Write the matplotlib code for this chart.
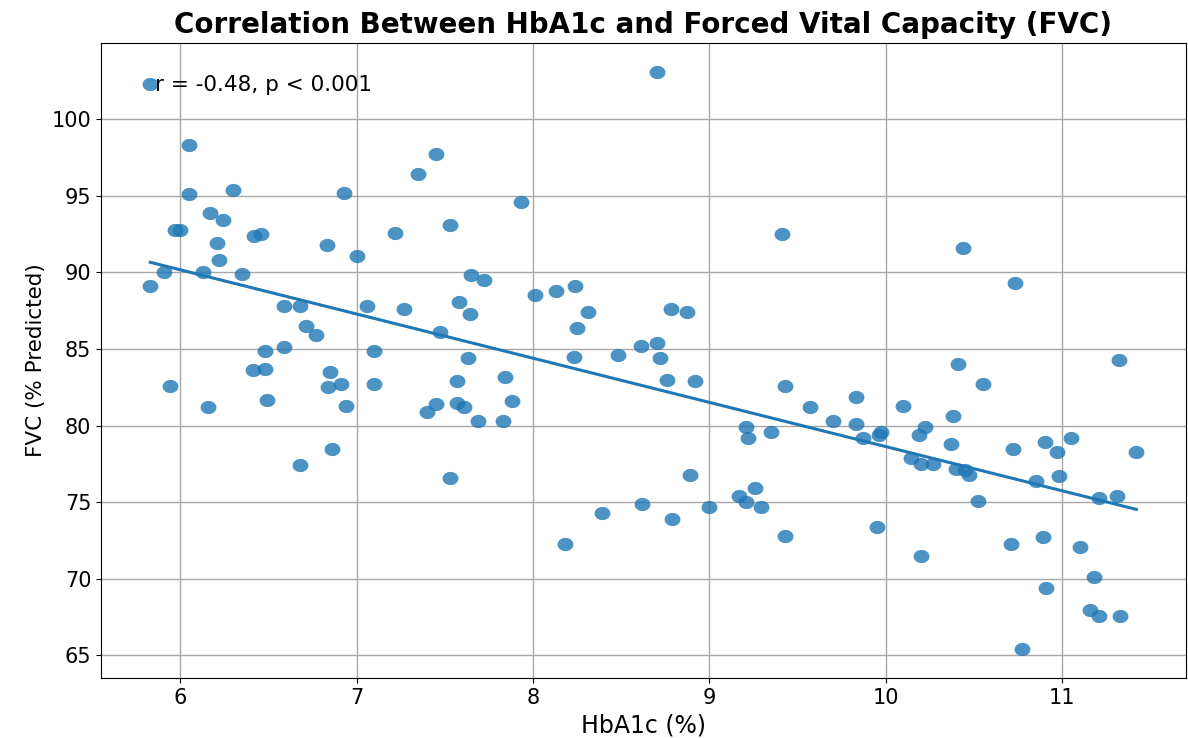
import numpy as np
import matplotlib
matplotlib.use("Agg")
import matplotlib.pyplot as plt
from matplotlib.path import Path

# HbA1c (%) and FVC (% predicted)
hba1c = [5.83, 8.70, 6.05, 7.45, 7.35, 6.30, 6.05, 6.93, 7.93, 7.53,
         6.17, 6.24, 5.97, 6.00, 6.42, 6.46, 7.22, 6.21, 6.83, 6.22,
         7.00, 5.91, 6.13, 6.35, 5.83, 7.65, 7.72, 6.59, 6.68, 7.06,
         7.27, 7.58, 7.64, 8.01, 8.13, 8.24, 8.31, 8.25, 8.78, 8.87,
         6.71, 6.77, 7.47, 6.59, 6.48, 7.10, 7.63, 8.23, 8.48, 8.61,
         8.70, 8.72, 6.41, 6.48, 6.85, 7.57, 7.84, 8.76, 8.92, 5.94,
         6.84, 6.91, 7.10, 6.49, 6.16, 6.94, 7.45, 7.40, 7.57, 7.61,
         7.88, 7.69, 7.83, 6.86, 6.68, 7.53, 8.18, 8.39, 8.62, 8.79,
         9.00, 8.89, 9.41, 10.44, 10.73, 10.41, 11.32, 9.43, 9.57, 9.70,
         9.83, 9.83, 9.87, 9.96, 9.97, 10.10, 10.14, 10.19, 10.22, 10.20,
         10.27, 10.37, 10.38, 10.55, 10.40, 10.45, 10.47, 10.52, 10.72, 10.85,
         10.90, 10.97, 11.05, 10.98, 11.21, 11.31, 11.42, 9.43, 9.95, 10.20,
         10.71, 10.89, 11.10, 11.18, 10.91, 11.16, 11.21, 11.33, 10.77, 9.21,
         9.22, 9.35, 9.17, 9.21, 9.26, 9.29]
fvc = [102.3, 103.1, 98.3, 97.7, 96.4, 95.4, 95.1, 95.2, 94.6, 93.1,
       93.9, 93.4, 92.8, 92.8, 92.4, 92.5, 92.6, 91.9, 91.8, 90.8,
       91.1, 90.0, 90.0, 89.9, 89.1, 89.8, 89.5, 87.8, 87.8, 87.8,
       87.6, 88.1, 87.3, 88.5, 88.8, 89.1, 87.4, 86.4, 87.6, 87.4,
       86.5, 85.9, 86.1, 85.1, 84.9, 84.9, 84.4, 84.5, 84.6, 85.2,
       85.4, 84.4, 83.6, 83.7, 83.5, 82.9, 83.2, 83.0, 82.9, 82.6,
       82.5, 82.7, 82.7, 81.7, 81.2, 81.3, 81.4, 80.9, 81.5, 81.2,
       81.6, 80.3, 80.3, 78.5, 77.4, 76.6, 72.3, 74.3, 74.9, 73.9,
       74.7, 76.8, 92.5, 91.6, 89.3, 84.0, 84.3, 82.6, 81.2, 80.3,
       81.9, 80.1, 79.2, 79.4, 79.6, 81.3, 77.9, 79.4, 79.9, 77.5,
       77.5, 78.8, 80.6, 82.7, 77.2, 77.1, 76.8, 75.1, 78.5, 76.4,
       78.9, 78.3, 79.2, 76.7, 75.3, 75.4, 78.3, 72.8, 73.4, 71.5,
       72.3, 72.7, 72.1, 70.1, 69.4, 68.0, 67.6, 67.6, 65.4, 79.9,
       79.2, 79.6, 75.4, 75.0, 75.9, 74.7]

x = np.array(hba1c)
y = np.array(fvc)

# slightly wide dots, like the stretched original
t = np.linspace(0, 2 * np.pi, 60)
oval = Path(np.column_stack([1.2 * np.cos(t), np.sin(t)]), closed=True)

fig, ax = plt.subplots(figsize=(11.88, 7.38), dpi=100)
fig.subplots_adjust(left=0.085, right=0.998, top=0.942, bottom=0.081)

ax.scatter(x, y, s=130, marker=oval, color='tab:blue', alpha=0.8, linewidths=0)

slope, intercept = np.polyfit(x, y, 1)
xs = np.array([x.min(), x.max()])
ax.plot(xs, slope * xs + intercept, color='tab:blue', linewidth=2.2)

ax.text(0.05, 0.95, 'r = -0.48, p < 0.001', transform=ax.transAxes,
        fontsize=15.5, va='top')

ax.set_title('Correlation Between HbA1c and Forced Vital Capacity (FVC)',
             fontsize=20, fontweight='bold', pad=7)
ax.set_xlabel('HbA1c (%)', fontsize=17)
ax.set_ylabel('FVC (% Predicted)', fontsize=15.5)
ax.tick_params(labelsize=15)
ax.grid(True, color='#a8a8a8', linewidth=1.0)
ax.set_axisbelow(True)

fig.savefig('out.png', dpi=100)
